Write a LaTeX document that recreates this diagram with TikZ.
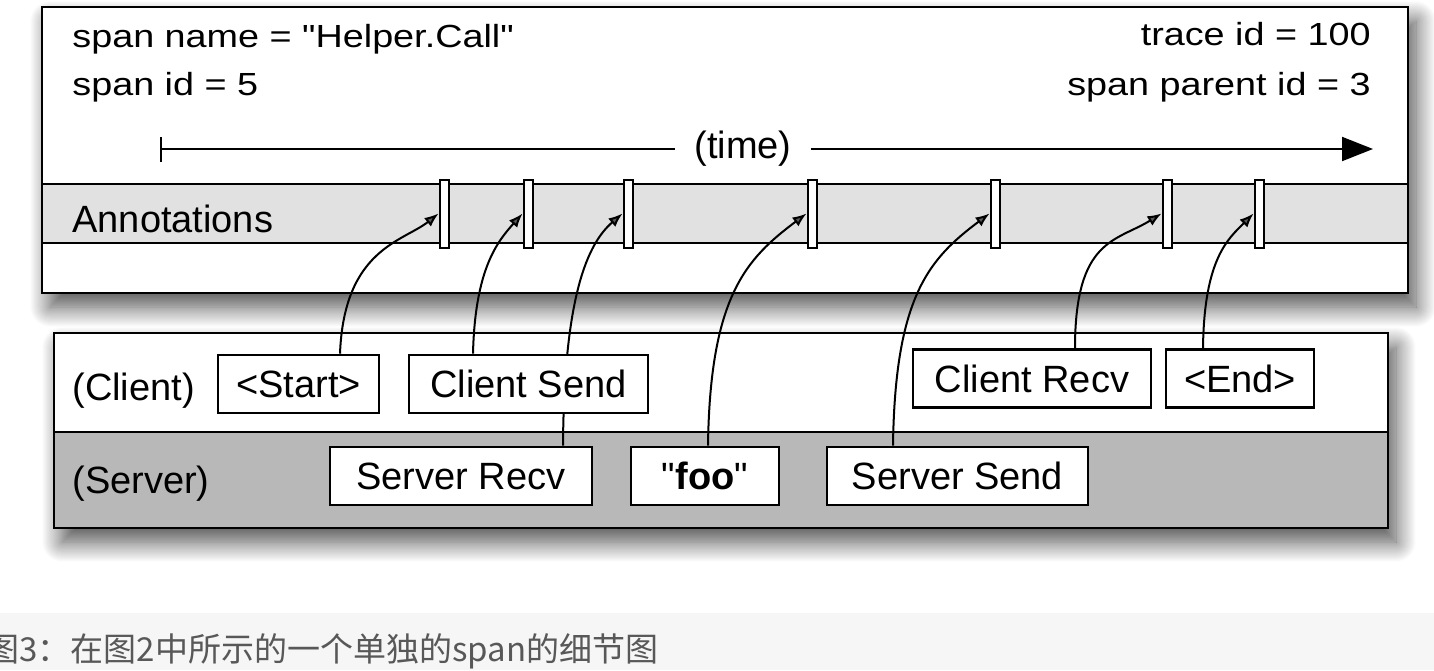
\documentclass[tikz,border=0pt]{standalone}
\usepackage{fontspec}
\setmainfont{Liberation Sans}
\newfontfamily\boxfont{Liberation Sans}
\newfontfamily\hdrfont{Liberation Sans}[FakeStretch=1.18]
\newfontfamily\cjk{Noto Sans CJK SC}
\usetikzlibrary{arrows.meta,shadows.blur}

\definecolor{bandgray}{RGB}{225,225,225}
\definecolor{servergray}{RGB}{184,184,184}
\definecolor{capband}{RGB}{246,246,246}
\definecolor{captext}{RGB}{88,88,88}

\pgfdeclarelayer{bg}
\pgfdeclarelayer{mid}
\pgfsetlayers{bg,mid,main}

\tikzset{
  boxline/.style={line width=1.4pt},
  boxshadow/.style={blur shadow={shadow xshift=4pt,shadow yshift=-7pt,shadow blur radius=10pt,shadow blur steps=20,shadow opacity=70}},
  lbl/.style={font=\boxfont\fontsize{19}{23}\selectfont, inner sep=0pt},
  hdr/.style={font=\hdrfont\fontsize{16}{20}\selectfont, inner sep=0pt},
  evbox/.style={draw, line width=1.3pt, fill=white, minimum height=29pt, inner sep=0pt, font=\boxfont\fontsize{19}{23}\selectfont},
  annmark/.style={draw, line width=1pt, fill=white, minimum width=4.5pt, minimum height=34pt, inner sep=0pt},
  hook/.style={line width=1pt, -{Latex[length=7pt,width=5.5pt]}},
}

\begin{document}
\begin{tikzpicture}[x=0.5pt,y=-0.5pt]
\useasboundingbox (0,0) rectangle (1434,670);

\begin{pgfonlayer}{bg}
  \fill[capband] (0,613) rectangle (1434,670);
  \fill[white,boxshadow] (42,7) rectangle (1408,293);
  \fill[bandgray] (42,184) rectangle (1408,243);
  \draw[line width=1pt] (42,184) -- (1408,184) (42,243) -- (1408,243);
  \draw[boxline] (42,7) rectangle (1408,293);
  \fill[white,boxshadow] (54,333) rectangle (1388,528);
  \fill[servergray] (54,432) rectangle (1388,528);
  \draw[line width=1pt] (54,432) -- (1388,432);
  \draw[boxline] (54,333) rectangle (1388,528);
\end{pgfonlayer}

\node[hdr, anchor=base west] (spanname) at (72,47) {span name = "Helper.Call"};
\node[hdr, anchor=base west] (spanid) at (72,95) {span id = 5};
\node[hdr, anchor=base east] (traceid) at (1371,45) {trace id = 100};
\node[hdr, anchor=base east] (parentid) at (1371,95) {span parent id = 3};

\coordinate (tstart) at (160,149);
\coordinate (tend) at (1373,149);
\node[lbl, inner xsep=9.5pt] (time) at (743,149) {(time)};
\draw[line width=1pt, {Bar[width=12.5pt]}-] (tstart) -- (time.west);
\draw[line width=1pt, -{Triangle[length=15.5pt,width=12pt,fill=black]}] (time.east) -- (tend);

\node[lbl, anchor=base west] (ann) at (72,232) {Annotations};
\foreach \x [count=\i] in {444,528,628,812,995,1167,1259}
  \node[annmark] (a\i) at (\x,213.5) {};

\node[lbl, anchor=base west] (client) at (72,400) {(Client)};
\node[lbl, anchor=base west] (server) at (72,493) {(Server)};

\node[evbox, minimum width=80.5pt] (start) at (298.5,384) {<Start>};
\node[evbox, minimum width=119.5pt] (csend) at (528.5,384) {Client Send};
\node[evbox, minimum width=119pt] (crecv) at (1032,378.5) {Client Recv};
\node[evbox, minimum width=74pt] (cend) at (1240,378.5) {<End>};
\node[evbox, minimum width=131pt] (srecv) at (461,476) {Server Recv};
\node[evbox, minimum width=74pt] (foo) at (705,476) {"\textbf{foo}"};
\node[evbox, minimum width=130.5pt] (ssend) at (957.5,476) {Server Send};

\begin{pgfonlayer}{mid}
  \draw[hook] ([xshift=20.75pt]start.north) .. controls +(4,-105) and +(-35,28) .. (a1.west);
  \draw[hook] ([xshift=-27.75pt]csend.north) .. controls +(2,-85) and +(-25,28) .. (a2.west);
  \draw[hook] ([xshift=51pt]srecv.north) .. controls +(1,-150) and +(-35,30) .. (a3.west);
  \draw[hook] ([xshift=1.5pt]foo.north) .. controls +(2,-150) and +(-60,45) .. (a4.west);
  \draw[hook] ([xshift=-32.25pt]ssend.north) .. controls +(2,-150) and +(-60,45) .. (a5.west);
  \draw[hook] ([xshift=21.5pt]crecv.north) .. controls +(0,-110) and +(-45,28) .. (a6.west);
  \draw[hook] ([xshift=-18.5pt]cend.north) .. controls +(1,-90) and +(-25,25) .. (a7.west);
\end{pgfonlayer}

\node[anchor=base west, inner sep=0pt, text=captext, font=\cjk\fontsize{16.5}{20}\selectfont] (caption) at (-14,661) {图3：在图2中所示的一个单独的span的细节图};
\end{tikzpicture}
\end{document}
